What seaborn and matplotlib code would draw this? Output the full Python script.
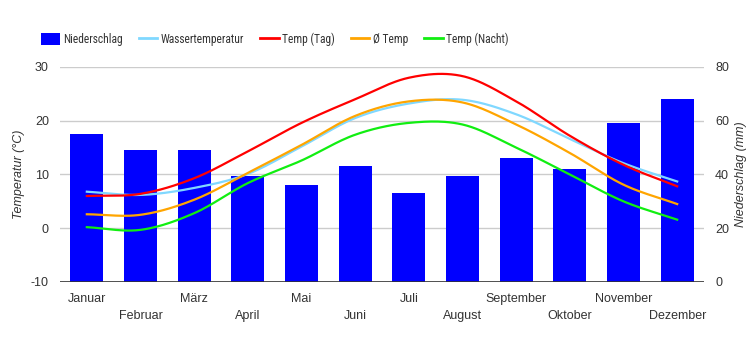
import numpy as np
import pandas as pd
import matplotlib
matplotlib.use('Agg')
import matplotlib.pyplot as plt
import seaborn as sns
from matplotlib.patches import Patch
from matplotlib.lines import Line2D
from matplotlib import font_manager

# --- Daten ---
monate = ['Januar', 'Februar', 'März', 'April', 'Mai', 'Juni',
          'Juli', 'August', 'September', 'Oktober', 'November', 'Dezember']
niederschlag = [55, 49, 49, 39.5, 36, 43, 33, 39.5, 46, 42, 59, 68]
wassertemp = [6.8, 6.2, 7.5, 10.1, 15.2, 20.5, 23.2, 23.9, 21.2, 16.6, 12.1, 8.7]
temp_tag = [6.0, 6.4, 9.3, 14.3, 19.6, 24.0, 28.0, 28.3, 23.6, 17.2, 11.8, 7.8]
temp_mittel = [2.6, 2.5, 5.3, 10.3, 15.5, 20.9, 23.6, 23.4, 19.3, 14.0, 8.1, 4.5]
temp_nacht = [0.2, -0.3, 2.8, 8.4, 12.6, 17.4, 19.6, 19.3, 15.0, 10.0, 5.0, 1.6]

linien = [
    ('Wassertemperatur', wassertemp, '#80d8ff'),
    ('Temp (Tag)', temp_tag, '#ff0000'),
    ('Ø Temp', temp_mittel, '#ffa500'),
    ('Temp (Nacht)', temp_nacht, '#11ee11'),
]
BALKEN_FARBE = '#0000ff'
TEXT_FARBE = '#333333'


def glatt(werte, n=24):
    # Kurve durch die Monatswerte (Hermite-Spline, nur zur Darstellung)
    y = np.asarray(werte, dtype=float)
    m = np.gradient(y)
    t = np.linspace(0, 1, n, endpoint=False)
    h00 = 2 * t**3 - 3 * t**2 + 1
    h10 = t**3 - 2 * t**2 + t
    h01 = -2 * t**3 + 3 * t**2
    h11 = t**3 - t**2
    xs, ys = [], []
    for i in range(len(y) - 1):
        xs.extend(i + t)
        ys.extend(h00 * y[i] + h10 * m[i] + h01 * y[i + 1] + h11 * m[i + 1])
    xs.append(len(y) - 1)
    ys.append(y[-1])
    return pd.DataFrame({'x': xs, 'y': ys})


plt.rcParams['font.family'] = ['Liberation Sans', 'DejaVu Sans']
plt.rcParams['axes.unicode_minus'] = False

# schmale Schrift für die Legende, falls vorhanden
legend_font = {'family': ['Liberation Sans', 'DejaVu Sans'], 'size': 8}
for name in ['Liberation Sans Narrow', 'Roboto Condensed', 'Open Sans Condensed', 'Arial Narrow']:
    try:
        font_manager.findfont(name, fallback_to_default=False)
        legend_font = {'family': [name, 'DejaVu Sans'], 'size': 8.3}
        break
    except Exception:
        pass

fig = plt.figure(figsize=(7.5, 3.5), dpi=100)
ax = fig.add_axes([0.08, 0.1943, 0.8587, 0.6143])
ax2 = ax.twinx()

# Balken (rechte Achse)
sns.barplot(x=monate, y=niederschlag, ax=ax2, color=BALKEN_FARBE,
            saturation=1, width=0.62)
ax2.set_ylim(0, 80)
ax2.set_yticks([0, 20, 40, 60, 80])
ax2.yaxis.grid(True, color='#cccccc', lw=1)
ax2.set_axisbelow(True)

# Linien (linke Achse)
for name, werte, farbe in linien:
    d = glatt(werte)
    sns.lineplot(data=d, x='x', y='y', ax=ax, color=farbe, lw=1.6,
                 estimator=None)
ax.set_ylim(-10, 30)
ax.set_yticks([-10, 0, 10, 20, 30])
ax.set_xlim(-0.5, 11.5)
ax.axhline(-10, color='#333333', lw=1.2, zorder=5)

ax.set_zorder(ax2.get_zorder() + 1)
ax.patch.set_visible(False)

ax.set_xticks(range(len(monate)))
ax.set_xticklabels([m if i % 2 == 0 else '\n' + m for i, m in enumerate(monate)],
                   linespacing=1.55)
ax.set_xlabel('')
ax2.set_xlabel('')

for a in (ax, ax2):
    for s in a.spines.values():
        s.set_visible(False)
    a.tick_params(length=0, labelsize=9, labelcolor=TEXT_FARBE)
ax.tick_params(axis='y', pad=8)
ax2.tick_params(axis='y', pad=8)
ax.tick_params(axis='x', pad=8)

ax.set_ylabel('Temperatur (°C)', style='italic', fontsize=9, color=TEXT_FARBE, labelpad=4)
ax2.set_ylabel('Niederschlag (mm)', style='italic', fontsize=9, color=TEXT_FARBE, labelpad=4)

# Legende
handles = [Patch(facecolor=BALKEN_FARBE, edgecolor='none')]
labels = ['Niederschlag']
for name, werte, farbe in linien:
    handles.append(Line2D([], [], color=farbe, lw=2))
    labels.append(name)
fig.legend(handles, labels, loc='center left', bbox_to_anchor=(0.041, 0.889),
           ncol=5, frameon=False, prop=legend_font, handlelength=1.6,
           handleheight=1.25, handletextpad=0.3, columnspacing=1.4,
           labelcolor=TEXT_FARBE)

plt.savefig('out.png', dpi=100)
